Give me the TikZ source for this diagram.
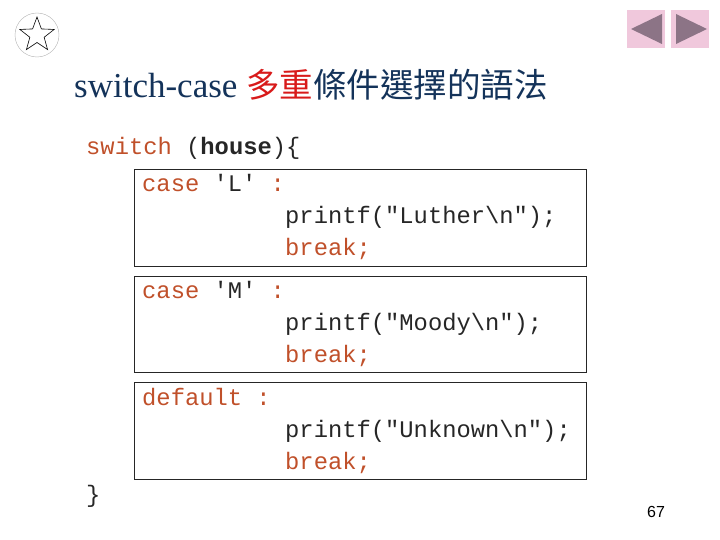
\documentclass[tikz,border=0pt]{standalone}
\usepackage{fontspec}
\setmainfont{Liberation Serif}
\setmonofont{Liberation Mono}
\newfontfamily\cjk{Noto Sans CJK TC}
\newfontfamily\numfont{Liberation Sans}
\definecolor{kw}{HTML}{C0502A}
\definecolor{navy}{HTML}{14335A}
\definecolor{tred}{HTML}{D81A1A}
\definecolor{pinkbg}{HTML}{F0C8DC}
\definecolor{tri}{HTML}{8C7486}
\begin{document}
\begin{tikzpicture}[x=1pt,y=-1pt,
  code/.style={anchor=base west,inner sep=0pt,text=black!85,font=\ttfamily\fontsize{23.8}{26}\selectfont},
  cbox/.style={draw=black!85,line width=0.9pt}]
\useasboundingbox (0,0) rectangle (720,540);
% star icon
\node[circle,draw=gray!60,minimum size=44,inner sep=0] (ic) at (37,35) {};
\draw[black,line width=0.6pt] ([shift={(37,35)}]-90:18)
  \foreach \i in {1,...,9}{ -- ([shift={(37,35)}]{-90+36*\i}:{ifthenelse(mod(\i,2)==0,18,7.5)}) } -- cycle;
% nav buttons
\node[fill=pinkbg,minimum width=38,minimum height=38,inner sep=0] (prev) at (646,29) {};
\node[fill=pinkbg,minimum width=38,minimum height=38,inner sep=0] (next) at (690,29) {};
\fill[tri] (631,29) -- (662,14) -- (662,44) -- cycle;
\fill[tri] (707,29) -- (676,14) -- (676,44) -- cycle;
% title
\node[anchor=base west,inner sep=0,text=navy,font=\fontsize{35}{38}\selectfont] (title) at (74,98)
 {switch-case {\cjk\fontsize{33.5}{36}\selectfont\textcolor{tred}{多重}條件選擇的語法}};
% boxes
\draw[cbox] (134,169) rectangle (586,266);
\draw[cbox] (134,276) rectangle (586,372);
\draw[cbox] (134,382) rectangle (586,479);
% code
\node[code] (l0) at (86,155) {\textcolor{kw}{switch} (\textbf{house})\{};
\node[code] (l1) at (142,192) {\textcolor{kw}{case} 'L'\ \textcolor{kw}{:}};
\node[code] (l2) at (285,223) {printf("Luther\textbackslash n");};
\node[code] (l3) at (285,255) {\textcolor{kw}{break;}};
\node[code] (l4) at (142,298) {\textcolor{kw}{case} 'M'\ \textcolor{kw}{:}};
\node[code] (l5) at (285,330) {printf("Moody\textbackslash n");};
\node[code] (l6) at (285,362) {\textcolor{kw}{break;}};
\node[code] (l7) at (142,405) {\textcolor{kw}{default :}};
\node[code] (l8) at (285,437) {printf("Unknown\textbackslash n");};
\node[code] (l9) at (285,469) {\textcolor{kw}{break;}};
\node[code] (l10) at (86,502) {\}};
\node[anchor=base,inner sep=0,font=\numfont\fontsize{16}{18}\selectfont] (pg) at (656,517) {67};
\end{tikzpicture}
\end{document}
